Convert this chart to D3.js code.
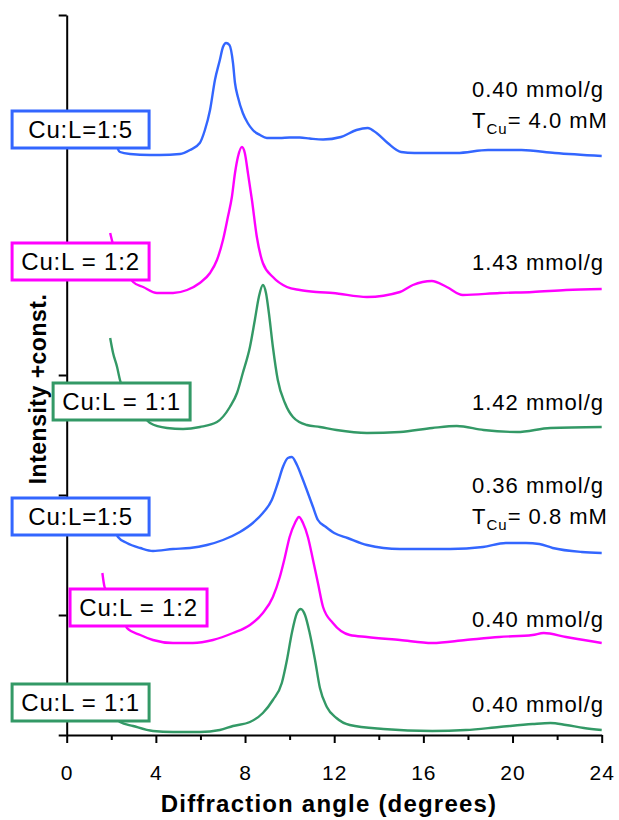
<!DOCTYPE html>
<html>
<head>
<meta charset="utf-8">
<style>
body { margin: 0; background: #fff; }
svg text { font-family: "Liberation Sans", Arial, sans-serif; fill: #000; }
</style>
</head>
<body>
<div id="chart"></div>
<script src="https://cdn.jsdelivr.net/npm/d3@7"></script>
<script>
// traces, [angle in degrees, intensity + const]
var blueTop = [[2.0,6150],[2.39,5830],[2.84,5810],[3.74,5800],[4.18,5800],[5.08,5810],[5.53,5850],[5.97,5920],[6.2,6050],[6.43,6250],[6.65,6550],[6.87,6750],[7.01,6880],[7.15,6920],[7.3,6900],[7.46,6720],[7.55,6520],[7.68,6380],[7.9,6220],[8.12,6120],[8.35,6050],[8.67,6000],[8.98,5970],[9.56,5970],[10.0,5975],[10.46,5975],[10.9,5965],[11.5,5955],[12.3,5980],[13.0,6050],[13.5,6070],[13.9,6020],[14.4,5920],[15.0,5830],[15.6,5820],[17.5,5820],[18.9,5850],[20.4,5850],[21.9,5820],[24.0,5790]];
var magentaTop = [[1.95,5020],[2.05,4930],[2.5,4700],[2.98,4530],[3.43,4480],[4.05,4420],[4.77,4420],[5.4,4450],[5.97,4520],[6.43,4620],[6.74,4750],[7.01,4950],[7.23,5180],[7.41,5380],[7.55,5620],[7.68,5780],[7.86,5880],[7.99,5820],[8.13,5620],[8.31,5350],[8.53,4980],[8.8,4720],[9.25,4580],[9.88,4480],[10.46,4450],[11.2,4430],[11.94,4420],[13.47,4380],[14.95,4430],[15.53,4500],[16.38,4540],[17.05,4480],[17.77,4400],[19.43,4420],[20.9,4430],[22.4,4450],[24.0,4460]];
var greenTop = [[1.95,3970],[2.08,3820],[2.26,3680],[2.39,3550],[2.9,3300],[3.5,3170],[3.74,3120],[4.5,3070],[5.22,3060],[5.98,3080],[6.74,3130],[7.32,3280],[7.64,3420],[7.9,3620],[8.22,3880],[8.44,4150],[8.62,4380],[8.8,4500],[8.94,4420],[9.07,4220],[9.25,3880],[9.47,3550],[9.79,3320],[10.15,3180],[10.77,3100],[11.36,3080],[12.1,3050],[13.47,3020],[14.95,3030],[16.4,3070],[17.5,3090],[18.7,3050],[20.2,3030],[21.7,3070],[24.0,3080]];
var blueLow = [[1.95,2200],[2.3,1980],[2.7,1920],[3.3,1870],[3.87,1840],[4.77,1860],[5.53,1870],[6.29,1900],[7.01,1950],[7.77,2030],[8.35,2120],[8.8,2220],[9.2,2350],[9.47,2520],[9.7,2680],[9.92,2770],[10.1,2780],[10.33,2700],[10.55,2580],[10.77,2450],[11.05,2280],[11.27,2150],[11.63,2080],[12.0,2020],[12.6,1970],[13.47,1900],[14.95,1860],[17.2,1860],[18.67,1880],[19.7,1920],[20.6,1920],[21.2,1910],[21.8,1870],[23.1,1830],[24.0,1820]];
var magentaLow = [[1.6,1620],[1.7,1480],[2.5,1200],[2.7,1070],[3.3,1000],[3.87,950],[4.77,920],[5.66,920],[6.56,950],[7.46,1020],[8.22,1100],[8.8,1220],[9.25,1380],[9.56,1580],[9.79,1780],[10.0,1980],[10.24,2120],[10.42,2180],[10.6,2120],[10.82,1980],[11.05,1750],[11.27,1520],[11.5,1280],[11.94,1120],[12.7,1000],[13.47,980],[14.95,950],[16.4,920],[17.9,950],[19.4,980],[20.9,1000],[21.4,1020],[22.4,980],[23.2,950],[24.0,920]];
var greenLow = [[1.6,400],[2.0,250],[2.39,130],[2.98,90],[3.87,40],[4.77,30],[5.98,30],[6.87,50],[7.46,90],[8.22,130],[8.8,220],[9.25,350],[9.65,520],[9.88,750],[10.1,1020],[10.33,1220],[10.5,1260],[10.69,1200],[10.9,1020],[11.14,750],[11.36,470],[11.67,280],[12.1,170],[12.7,100],[14.2,60],[16.4,40],[17.9,50],[19.4,80],[20.9,110],[21.7,120],[22.4,100],[23.2,70],[24.0,50]];

var traces = [blueTop, magentaTop, greenTop, blueLow, magentaLow, greenLow];
var traceColors = ["#3366ff", "#ff00ff", "#339966", "#3366ff", "#ff00ff", "#339966"];

// sample labels: text and the box's top-left corner [angle, intensity]
var sampleNames = ["Cu:L=1:5", "Cu:L = 1:2", "Cu:L = 1:1", "Cu:L=1:5", "Cu:L = 1:2", "Cu:L = 1:1"];
var sampleAnchors = [[-2.45,6240],[-2.45,4920],[-0.61,3520],[-2.45,2370],[0.15,1460],[-2.45,510]];
// loadings text at the right
var loadings = ["0.40 mmol/g", "1.43 mmol/g", "1.42 mmol/g", "0.36 mmol/g", "0.40 mmol/g", "0.40 mmol/g"];
var loadingY = [6380, 4650, 3250, 2420, 1080, 230];
var tcuValues = ["4.0 mM", null, null, "0.8 mM", null, null];

var xMajor = [0, 4, 8, 12, 16, 20, 24];
var xMinor = [2, 6, 10, 14, 18, 22];
var yTicks = [0, 1200, 2400, 3600, 4800, 6000, 7200];

var svg = d3.select("#chart").append("svg")
    .attr("width", 619)
    .attr("height", 820);

var x = d3.scaleLinear().domain([0, 24]).range([66.7, 601.7]);
var y = d3.scaleLinear().domain([0, 7200]).range([735, 15]);

var line = d3.line()
    .x(function (d) { return x(d[0]); })
    .y(function (d) { return y(d[1]); })
    .curve(d3.curveMonotoneX);

// axes
var xAxisG = svg.append("g").attr("transform", "translate(0,735)");
xAxisG.call(d3.axisBottom(x).tickValues(xMajor).tickSize(8).tickSizeOuter(0).tickPadding(22));
var xMinorG = svg.append("g").attr("transform", "translate(0,735)");
xMinorG.call(d3.axisBottom(x).tickValues(xMinor).tickSize(5).tickFormat(""));
xMinorG.select(".domain").remove();

var yAxisG = svg.append("g").attr("transform", "translate(66.7,0)");
yAxisG.call(d3.axisLeft(y).tickValues(yTicks).tickSize(8).tickSizeOuter(0).tickFormat(""));

svg.selectAll(".domain").attr("stroke", "#000").attr("stroke-width", 2);
svg.selectAll(".tick line").attr("stroke", "#000").attr("stroke-width", 2);
xAxisG.selectAll(".tick text")
    .style("font-size", "21px")
    .style("letter-spacing", "1px")
    .style("font-family", "'Liberation Sans', Arial, sans-serif")
    .attr("fill", "#000");

// traces
svg.selectAll("path.trace")
    .data(traces)
    .enter()
    .append("path")
    .attr("class", "trace")
    .attr("d", line)
    .attr("fill", "none")
    .attr("stroke", function (d, i) { return traceColors[i]; })
    .attr("stroke-width", 2.4)
    .attr("stroke-linejoin", "round");

// sample boxes
sampleNames.forEach(function (name, i) {
    var bx = x(sampleAnchors[i][0]), by = y(sampleAnchors[i][1]);
    svg.append("rect")
        .attr("x", bx).attr("y", by)
        .attr("width", 137).attr("height", 37)
        .attr("fill", "#fff")
        .attr("stroke", traceColors[i])
        .attr("stroke-width", 3);
    svg.append("text")
        .attr("x", bx + 68.5).attr("y", by + 27)
        .attr("text-anchor", "middle")
        .style("font-size", "24px")
        .style("letter-spacing", "0.8px")
        .text(name);
});

// loading notes
loadings.forEach(function (t, i) {
    svg.append("text")
        .attr("x", 472).attr("y", y(loadingY[i]))
        .style("font-size", "22px")
        .style("letter-spacing", "1px")
        .text(t);
    if (tcuValues[i]) {
        var tt = svg.append("text")
            .attr("x", 472).attr("y", y(loadingY[i]) + 31)
            .style("font-size", "22px")
            .style("letter-spacing", "1px");
        tt.append("tspan").text("T");
        tt.append("tspan").attr("dy", 6).style("font-size", "15px").text("Cu");
        tt.append("tspan").attr("dy", -6).text("= " + tcuValues[i]);
    }
});

// axis titles
svg.append("text")
    .attr("x", 329).attr("y", 812)
    .attr("text-anchor", "middle")
    .style("font-size", "24px")
    .style("font-weight", "bold")
    .style("letter-spacing", "1.2px")
    .text("Diffraction angle (degrees)");

svg.append("text")
    .attr("transform", "translate(46,389) rotate(-90)")
    .attr("text-anchor", "middle")
    .style("font-size", "23px")
    .style("font-weight", "bold")
    .style("letter-spacing", "0.5px")
    .text("Intensity +const.");
</script>
</body>
</html>
